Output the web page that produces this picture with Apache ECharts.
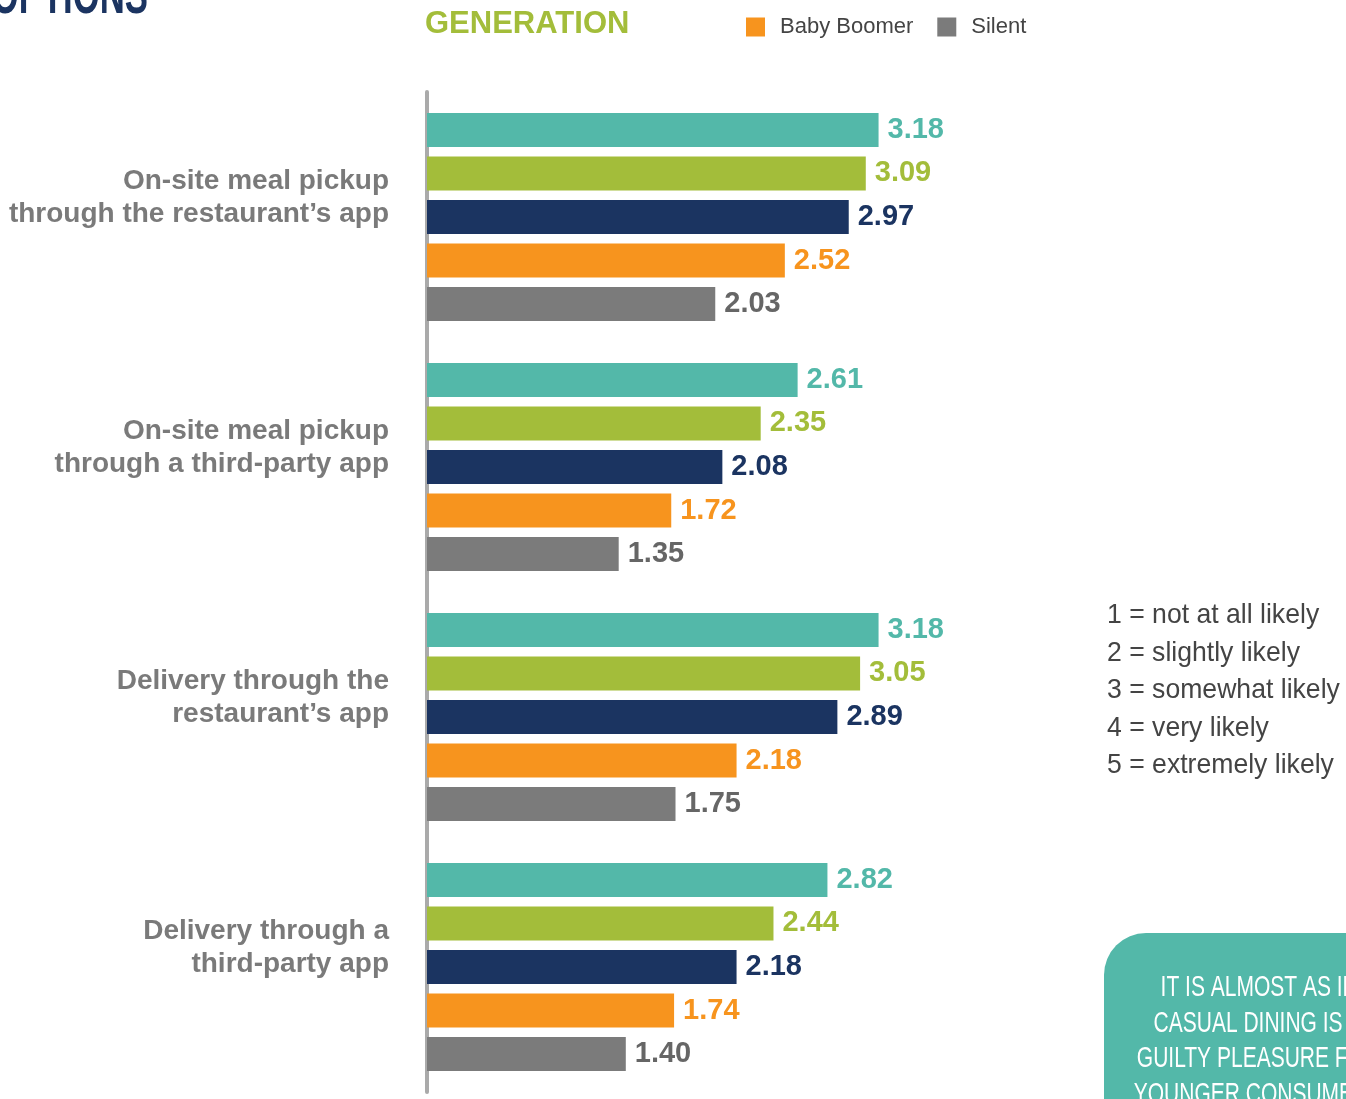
<!DOCTYPE html>
<html>
<head>
<meta charset="utf-8">
<script src="https://cdn.jsdelivr.net/npm/echarts@6/dist/echarts.min.js"></script>
<style>
  html, body { margin: 0; padding: 0; background: #fff; }
  #chart { width: 1346px; height: 1099px; }
</style>
</head>
<body>
<div id="chart"></div>
<script>
// 选项（从上到下）
var categories = [
  'On-site meal pickup\nthrough the restaurant’s app',
  'On-site meal pickup\nthrough a third-party app',
  'Delivery through the\nrestaurant’s app',
  'Delivery through a\nthird-party app'
];
var generations = ['Gen Z', 'Millennial', 'Gen X', 'Baby Boomer', 'Silent'];
var genZ       = [3.18, 2.61, 3.18, 2.82];
var millennial = [3.09, 2.35, 3.05, 2.44];
var genX       = [2.97, 2.08, 2.89, 2.18];
var boomer     = [2.52, 1.72, 2.18, 1.74];
var silent     = [2.03, 1.35, 1.75, 1.40];
var scaleLines = [
  '1 = not at all likely',
  '2 = slightly likely',
  '3 = somewhat likely',
  '4 = very likely',
  '5 = extremely likely'
];

var barColors = ['#53b8a9', '#a3bd3a', '#1b3461', '#f7941e', '#7b7b7b'];
var labelColors = ['#53b8a9', '#a3bd3a', '#1b3461', '#f7941e', '#666666'];
var sans = '"Liberation Sans", Arial, sans-serif';

var myChart = echarts.init(document.getElementById('chart'));

var seriesData = [genZ, millennial, genX, boomer, silent];
var series = seriesData.map(function (d, i) {
  return {
    name: generations[i],
    type: 'bar',
    data: d,
    barWidth: 34,
    barGap: '28%',
    itemStyle: { color: barColors[i] },
    label: {
      show: true,
      position: 'right',
      distance: 9,
      color: labelColors[i],
      fontFamily: sans,
      fontWeight: 'bold',
      fontSize: 29,
      formatter: function (p) { return p.value.toFixed(2); }
    }
  };
});

myChart.setOption({
  animation: false,
  backgroundColor: '#fff',
  grid: { left: 427, top: 92, width: 710, height: 1000 },
  legend: {
    data: ['Baby Boomer', 'Silent'],
    left: 746,
    top: 16,
    padding: 0,
    icon: 'rect',
    itemWidth: 19,
    itemHeight: 19,
    itemGap: 24,
    textStyle: {
      fontFamily: sans,
      fontSize: 22,
      color: '#444',
      padding: [0, 0, 0, 10]
    }
  },
  xAxis: {
    type: 'value',
    min: 0,
    max: 5,
    show: false
  },
  yAxis: {
    type: 'category',
    inverse: true,
    data: categories,
    offset: 2,
    axisLine: { show: true, lineStyle: { color: '#aaaaaa', width: 4 } },
    axisTick: { show: false },
    axisLabel: {
      margin: 36,
      align: 'right',
      formatter: function (v) {
        return v.split('\n').map(function (s) { return '{a|' + s + '}'; }).join('\n') + '\n{s| }';
      },
      rich: {
        a: {
          fontFamily: sans,
          fontWeight: 'bold',
          fontSize: 28,
          lineHeight: 33,
          color: '#7a7a7a',
          align: 'right'
        },
        s: { fontSize: 10, lineHeight: 38 }
      }
    }
  },
  graphic: [
    {
      type: 'text',
      x: 148,
      y: -2,
      scaleX: 0.62,
      style: {
        text: 'OPTIONS',
        fill: '#1b3461',
        fontFamily: sans,
        fontWeight: 'bold',
        fontSize: 56,
        align: 'right',
        verticalAlign: 'middle'
      }
    },
    {
      type: 'text',
      left: 425,
      top: 9,
      style: {
        text: 'GENERATION',
        fill: '#a3bd3a',
        fontFamily: sans,
        fontWeight: 'bold',
        fontSize: 31
      }
    },
    {
      type: 'text',
      x: 1107,
      y: 597,
      scaleX: 0.95,
      style: {
        text: scaleLines.join('\n'),
        fill: '#444',
        fontFamily: sans,
        fontSize: 28,
        lineHeight: 37.5
      }
    },
    {
      type: 'rect',
      shape: { x: 1104, y: 933, width: 400, height: 300, r: [42, 0, 0, 0] },
      style: { fill: '#53b8a9' }
    },
    {
      type: 'text',
      x: 1258,
      y: 970,
      scaleX: 0.7,
      style: {
        text: 'IT IS ALMOST AS IF\nCASUAL DINING IS A\nGUILTY PLEASURE FOR\nYOUNGER CONSUMERS',
        fill: '#fff',
        align: 'center',
        fontFamily: sans,
        fontSize: 30,
        lineHeight: 35.5
      }
    }
  ],
  series: series
});
</script>
</body>
</html>
